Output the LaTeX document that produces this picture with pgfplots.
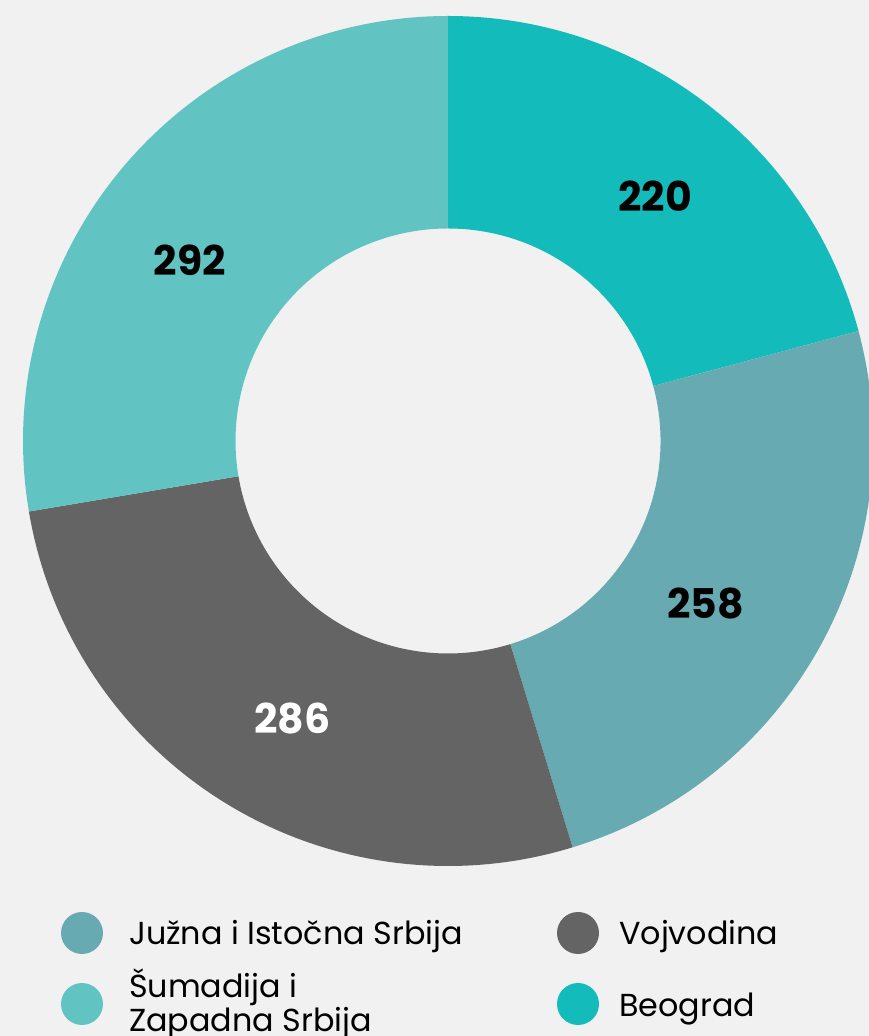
\documentclass[border=0pt]{standalone}
\usepackage{pgfplots}
\pgfplotsset{compat=1.18}
\usepackage{pgfplotstable}
\usepackage{fontspec}
\setmainfont{Poppins}
\definecolor{bgc}{HTML}{F1F1F1}
\definecolor{cbeo}{HTML}{14BBBB}
\definecolor{cjuz}{HTML}{68AAB2}
\definecolor{cvoj}{HTML}{646464}
\definecolor{csum}{HTML}{62C4C2}
\pgfplotstableread{
region value
Beograd 220
Juzna 258
Vojvodina 286
Sumadija 292
}\piedata
\newcommand\seg[3]{%
  \fill[#3] ([shift={(#1:425pt)}]axis cs:448,595)
     arc[start angle=#1,end angle=#2,radius=425pt]
     -- ([shift={(#2:212.5pt)}]axis cs:448,595)
     arc[start angle=#2,end angle=#1,radius=212.5pt] -- cycle;}
\begin{document}
\begin{tikzpicture}
\pgfplotstablegetelem{0}{value}\of\piedata\global\let\vA\pgfplotsretval
\pgfplotstablegetelem{1}{value}\of\piedata\global\let\vB\pgfplotsretval
\pgfplotstablegetelem{2}{value}\of\piedata\global\let\vC\pgfplotsretval
\pgfplotstablegetelem{3}{value}\of\piedata\global\let\vD\pgfplotsretval
\pgfmathsetmacro\tot{\vA+\vB+\vC+\vD}
\pgfmathsetmacro\aA{90}
\pgfmathsetmacro\aB{\aA-(\vA/\tot)*360}
\pgfmathsetmacro\aC{\aB-(\vB/\tot)*360}
\pgfmathsetmacro\aD{\aC-(\vC/\tot)*360}
\pgfmathsetmacro\aE{\aD-(\vD/\tot)*360}
\begin{axis}[x=1pt,y=1pt,xmin=0,xmax=869,ymin=0,ymax=1036,
  hide axis,clip=false,scale only axis]
\fill[bgc] (axis cs:0,0) rectangle (axis cs:869,1036);
\seg{\aA}{\aB}{cbeo}
\seg{\aB}{\aC}{cjuz}
\seg{\aC}{\aD}{cvoj}
\seg{\aD}{\aE}{csum}
\node[font=\fontsize{41}{41}\selectfont\bfseries,text=black,inner sep=0pt] at (axis cs:655,839.5) {\vA};
\node[font=\fontsize{41}{41}\selectfont\bfseries,text=black,inner sep=0pt] at (axis cs:705.5,432.5) {\vB};
\node[font=\fontsize{41}{41}\selectfont\bfseries,text=white,inner sep=0pt] at (axis cs:292.5,318) {\vC};
\node[font=\fontsize{41}{41}\selectfont\bfseries,text=black,inner sep=0pt] at (axis cs:190,776) {\vD};
% legend
\fill[cjuz] (axis cs:82,103) circle[radius=21pt];
\fill[csum] (axis cs:82,32) circle[radius=21pt];
\fill[cvoj] (axis cs:578,103) circle[radius=21pt];
\fill[cbeo] (axis cs:578,32) circle[radius=21pt];
\node[font=\fontsize{31.8}{31.8}\selectfont,anchor=base west,inner sep=0pt] at (axis cs:129,91) {Južna i Istočna Srbija};
\node[font=\fontsize{31.8}{31.8}\selectfont,anchor=base west,inner sep=0pt] at (axis cs:129,38) {Šumadija i};
\node[font=\fontsize{31.8}{31.8}\selectfont,anchor=base west,inner sep=0pt] at (axis cs:129,4) {Zapadna Srbija};
\node[font=\fontsize{31.8}{31.8}\selectfont,anchor=base west,inner sep=0pt] at (axis cs:619,91) {Vojvodina};
\node[font=\fontsize{31.8}{31.8}\selectfont,anchor=base west,inner sep=0pt] at (axis cs:619,19) {Beograd};
\end{axis}
\pgfresetboundingbox
\path[use as bounding box] (current axis.south west) rectangle (current axis.north east);
\end{tikzpicture}
\end{document}
